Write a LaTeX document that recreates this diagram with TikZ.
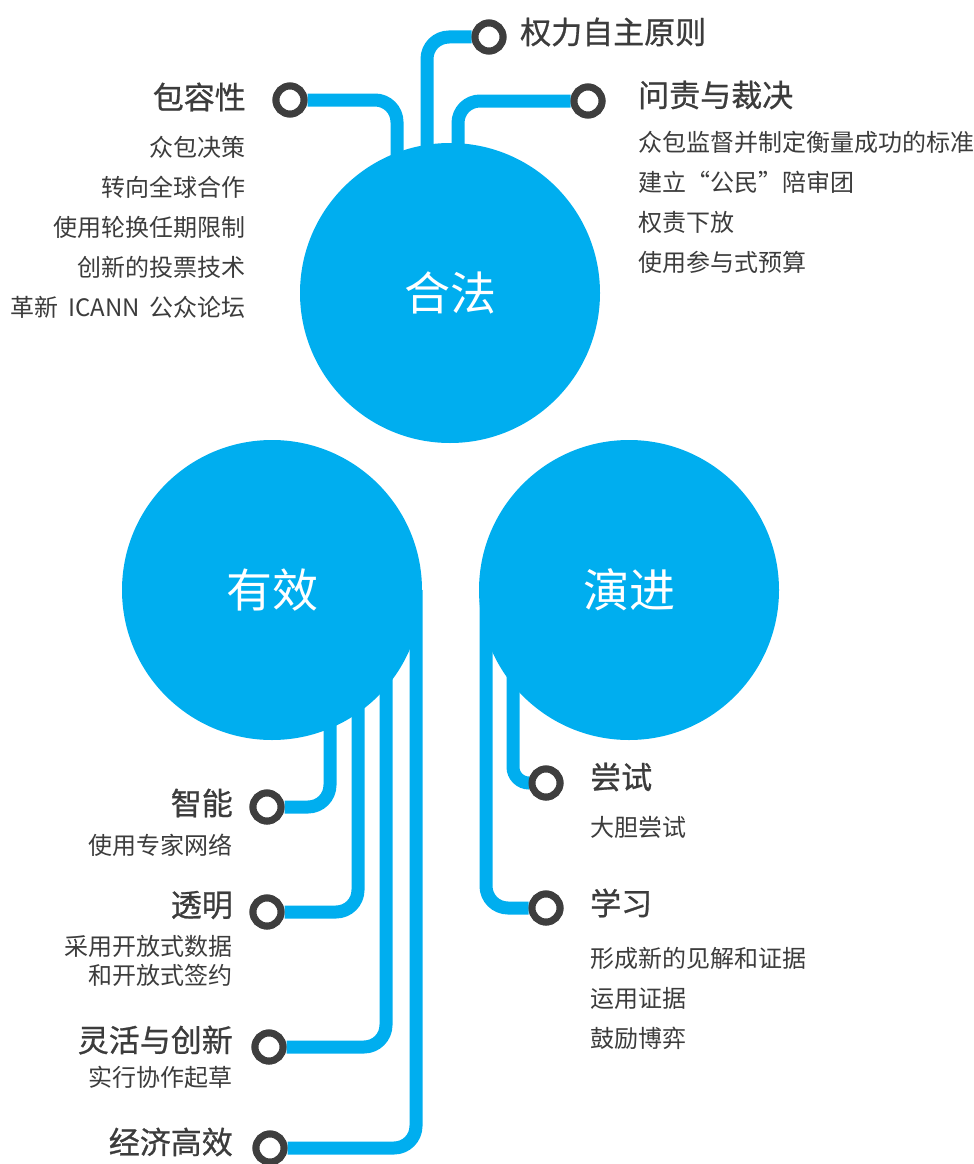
\documentclass[tikz,border=0pt]{standalone}
\usepackage{fontspec}
\setmainfont{Noto Sans CJK SC}
\newfontfamily\ttlfont[FakeBold=0.8]{Noto Sans CJK SC}
\begin{document}
\begin{tikzpicture}[x=1pt,y=-1pt,
  wire/.style={draw=blue1,line width=13pt,rounded corners=22pt},
  ring/.style={circle,draw=ringgray,line width=7pt,fill=white,minimum size=28pt,inner sep=0pt},
  bigc/.style={circle,fill=blue1,minimum size=300pt,inner sep=0pt,text=white,font=\fontsize{46}{50}\selectfont},
  ttl/.style={text=txtgray,font=\ttlfont\fontsize{31}{36}\selectfont,inner sep=0pt},
  itm/.style={text=txtgray,font=\fontsize{24}{28}\selectfont,inner sep=0pt}
]
\definecolor{blue1}{RGB}{0,174,239}
\definecolor{ringgray}{RGB}{62,62,62}
\definecolor{txtgray}{RGB}{60,60,60}
\useasboundingbox (0,0) rectangle (974,1164);
% coordinates inside circles
\coordinate (a1) at (397,220);
\coordinate (a2) at (427,220);
\coordinate (a3) at (458,220);
\coordinate (b1) at (330,640);
\coordinate (b2) at (358,630);
\coordinate (b3) at (386,610);
\coordinate (b4) at (416,590);
\coordinate (e1) at (513,640);
\coordinate (e2) at (486,600);
% rings (positions)
\node[ring] (r1) at (290,100) {};
\node[ring] (r2) at (489,37) {};
\node[ring] (r3) at (588,101) {};
\node[ring] (s1) at (267,807) {};
\node[ring] (s2) at (267,912) {};
\node[ring] (s3) at (269,1047) {};
\node[ring] (s4) at (270,1148) {};
\node[ring] (t1) at (546,783) {};
\node[ring] (t2) at (546,908) {};
% wires
\draw[wire] (a1) |- (r1);
\draw[wire] (a2) |- (r2);
\draw[wire] (a3) |- (r3);
\draw[wire] (b1) |- (s1);
\draw[wire] (b2) |- (s2);
\draw[wire] (b3) |- (s3);
\draw[wire] (b4) |- (s4);
\draw[wire,rounded corners=16pt] (e1) |- (t1);
\draw[wire] (e2) |- (t2);
% big circles
\node[bigc] (hefa) at (450,293) {合法};
\node[bigc] (youxiao) at (272,590) {有效};
\node[bigc] (yanjin) at (629,590) {演进};
% rings on top of wires
\foreach \r in {r1,r2,r3,s1,s2,s3,s4,t1,t2} \node[ring] at (\r) {};
% texts top-left
\node[ttl,anchor=east] (l1) at (246,97) {包容性};
\node[itm,anchor=east] (l11) at (246,147) {众包决策};
\node[itm,anchor=east] (l12) at (246,187) {转向全球合作};
\node[itm,anchor=east] (l13) at (246,227) {使用轮换任期限制};
\node[itm,anchor=east] (l14) at (246,267) {创新的投票技术};
\node[itm,anchor=east] (l15) at (246,307) {革新\hspace{10pt}ICANN\hspace{10pt}公众论坛};
% top
\node[ttl,anchor=west] (l2) at (520,32) {权力自主原则};
% right-top
\node[ttl,anchor=west] (l3) at (638,95) {问责与裁决};
\node[itm,anchor=west] (l31) at (638,142) {众包监督并制定衡量成功的标准};
\node[itm,anchor=west] (l32) at (638,182) {建立“公民”陪审团};
\node[itm,anchor=west] (l33) at (638,222) {权责下放};
\node[itm,anchor=west] (l34) at (638,262) {使用参与式预算};
% bottom-left
\node[ttl,anchor=east] (m1) at (233,803) {智能};
\node[itm,anchor=east] (m11) at (233,845) {使用专家网络};
\node[ttl,anchor=east] (m2) at (233,905) {透明};
\node[itm,anchor=east] (m21) at (233,946) {采用开放式数据};
\node[itm,anchor=east] (m22) at (233,975) {和开放式签约};
\node[ttl,anchor=east] (m3) at (233,1040) {灵活与创新};
\node[itm,anchor=east] (m31) at (233,1077) {实行协作起草};
\node[ttl,anchor=east] (m4) at (233,1142) {经济高效};
% bottom-right
\node[ttl,anchor=west] (n1) at (590,777) {尝试};
\node[itm,anchor=west] (n11) at (590,827) {大胆尝试};
\node[ttl,anchor=west] (n2) at (590,903) {学习};
\node[itm,anchor=west] (n21) at (590,958) {形成新的见解和证据};
\node[itm,anchor=west] (n22) at (590,998) {运用证据};
\node[itm,anchor=west] (n23) at (590,1038) {鼓励博弈};
\end{tikzpicture}
\end{document}
